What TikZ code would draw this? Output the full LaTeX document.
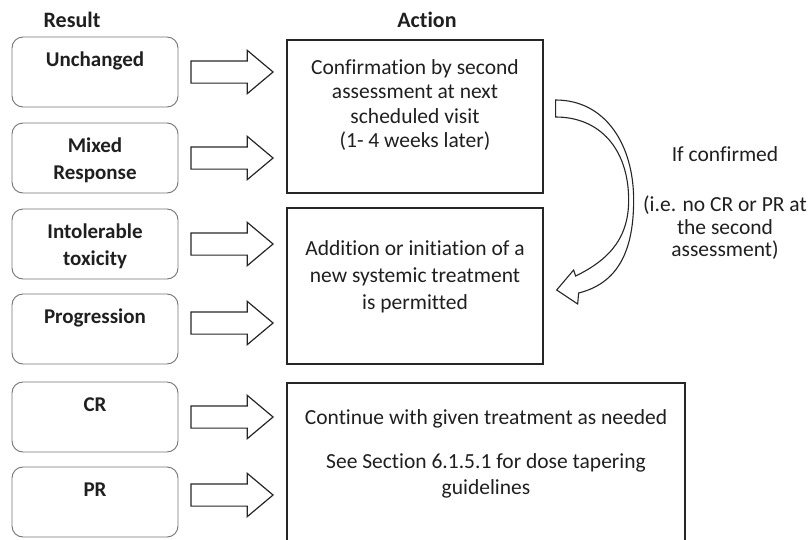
\documentclass[tikz,border=0pt]{standalone}
\usepackage{fontspec}
\setmainfont{Carlito}[Ligatures=CommonOff]
\usetikzlibrary{positioning,shapes.arrows}

\tikzset{
  headtext/.style={font=\bfseries\fontsize{22}{26}\selectfont, text=black!88, inner sep=0pt},
  resbox/.style={draw=black!55, line width=0.9pt, rounded corners=11pt, minimum width=166pt, minimum height=70pt, inner sep=0pt},
  restext/.style={font=\bfseries\fontsize{21}{26.5}\selectfont, text=black!88, align=center, inner sep=0pt},
  actbox/.style={draw=black!85, line width=1.3pt, inner sep=0pt},
  acttext/.style={font=\fontsize{21.5}{24.5}\selectfont, text=black!88, align=center, inner sep=0pt},
  blockarrow/.style={single arrow, draw=black!85, line width=1.2pt, single arrow head extend=10.5pt,
    single arrow tip angle=80, single arrow head indent=0pt, minimum height=82pt, inner xsep=0pt, inner ysep=10.5pt},
  curvarrow/.style={draw=black!85, line width=1.1pt, fill=white, line join=miter}
}

\begin{document}
\begin{tikzpicture}[x=1pt, y=-1pt]
\useasboundingbox (0,0) rectangle (809,539);
\clip (0,0) rectangle (809,539);

% Headers
\node[headtext] (hres) at (72,20) {Result};
\node[headtext] (hact) at (427,20) {Action};

% Result boxes
\node[resbox] (unch) at (95,72) {};
\node[resbox] (mixed) at (95,158) {};
\node[resbox] (intol) at (95,244) {};
\node[resbox] (progr) at (95,329) {};
\node[resbox] (cr) at (95,417) {};
\node[resbox] (pr) at (95,502) {};

\node[restext, below=11.5pt of unch.north] (unchtxt) {\strut Unchanged};
\node[restext, below=11.5pt of mixed.north] (mixedtxt) {\strut Mixed\\Response};
\node[restext, below=11.5pt of intol.north] (intoltxt) {\strut Intolerable\\toxicity};
\node[restext, below=11.5pt of progr.north] (progrtxt) {\strut Progression};
\node[restext, below=11.5pt of cr.north] (crtxt) {\strut CR};
\node[restext, below=11.5pt of pr.north] (prtxt) {\strut PR};

% Block arrows
\node[blockarrow, right=12pt of unch, anchor=tail] (a1) {};
\node[blockarrow, right=12pt of mixed, anchor=tail] (a2) {};
\node[blockarrow, right=12pt of intol, anchor=tail] (a3) {};
\node[blockarrow, right=12pt of progr, anchor=tail, yshift=6pt] (a4) {};
\node[blockarrow, right=12pt of cr, anchor=tail] (a5) {};
\node[blockarrow, right=12pt of pr, anchor=tail, yshift=7pt] (a6) {};

% Action boxes
\node[actbox, minimum width=256pt, minimum height=153pt] (conf) at (415,116.5) {};
\node[actbox, minimum width=256pt, minimum height=156pt] (perm) at (415,286) {};
\node[actbox, minimum width=398pt, minimum height=177pt] (cont) at (486,471.5) {};

\node[acttext, below=17.6pt of conf.north] (conftxt)
  {\strut Confirmation by second\\assessment at next\\scheduled visit\\(1- 4 weeks later)};
\node[acttext, font=\fontsize{21.5}{27}\selectfont, below=28.9pt of perm.north] (permtxt)
  {\strut Addition or initiation of a\\new systemic treatment\\is permitted};
\node[acttext, font=\fontsize{21.5}{26}\selectfont, below=23.6pt of cont.north] (conttxt)
  {\strut Continue with given treatment as needed\\[18pt]See Section 6.1.5.1 for dose tapering\\guidelines};

% Curved arrow
\begin{scope}[shift={(conf.east)}]
  \draw[curvarrow] (12,-16.5) .. controls (62,-16.5) and (90,28.5) .. (90,83.5)
    .. controls (90,133.5) and (75,166.5) .. (35,176.5)
    -- (34,187.5) -- (13,173.5) coordinate (ctip) -- (30,153.5) -- (32,159.5)
    .. controls (69,141.5) and (85,118.5) .. (85,83.5)
    .. controls (85,33.5) and (57,0.5) .. (12,0.5) coordinate (ctail) -- cycle;
\end{scope}

\node[acttext, font=\fontsize{21.5}{22.5}\selectfont, anchor=north] (ifconf) at (725,146)
  {\strut If confirmed\\[27.5pt](i.e. no CR or PR at\\the second\\assessment)};
\end{tikzpicture}
\end{document}
